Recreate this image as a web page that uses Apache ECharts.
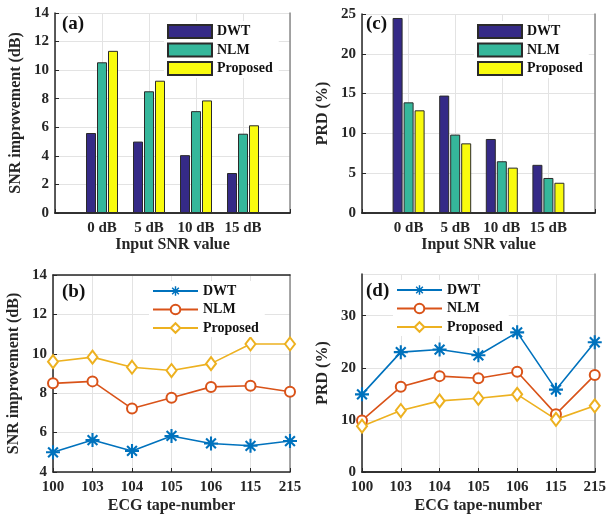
<!DOCTYPE html>
<html>
<head>
<meta charset="utf-8">
<script src="https://cdn.jsdelivr.net/npm/echarts@6/dist/echarts.min.js"></script>
<style>html,body{margin:0;padding:0;background:#fff}#c{width:609px;height:515px}</style>
</head>
<body>
<div id="c"></div>
<script>
// ---- data ----
const inputSnrCats = ['0 dB', '5 dB', '10 dB', '15 dB'];
const snrImpDWT = [5.6, 5.0, 4.05, 2.8];
const snrImpNLM = [10.55, 8.52, 7.13, 5.55];
const snrImpProposed = [11.35, 9.26, 7.88, 6.14];
const prdDWT = [24.5, 14.75, 9.3, 6.05];
const prdNLM = [13.9, 9.85, 6.5, 4.4];
const prdProposed = [12.9, 8.75, 5.7, 3.8];

const tapeNumbers = ['100', '103', '104', '105', '106', '115', '215'];
const tapeSnrDWT = [5.0, 5.62, 5.07, 5.83, 5.45, 5.33, 5.57];
const tapeSnrNLM = [8.5, 8.6, 7.22, 7.77, 8.32, 8.38, 8.07];
const tapeSnrProposed = [9.6, 9.83, 9.32, 9.15, 9.5, 10.5, 10.5];
const tapePrdDWT = [14.9, 23.0, 23.5, 22.4, 26.8, 15.8, 24.9];
const tapePrdNLM = [9.9, 16.35, 18.4, 18.0, 19.25, 11.1, 18.6];
const tapePrdProposed = [8.8, 11.8, 13.65, 14.15, 14.9, 10.1, 12.7];

const seriesNames = ['DWT', 'NLM', 'Proposed'];
const panelLabels = ['(a)', '(b)', '(c)', '(d)'];

// ---- styling ----
const FONT = '"Liberation Serif", "DejaVu Serif", serif';
const barColors = ['#352a87', '#35b79b', '#f9fb0e'];
const lineColors = ['#0072bd', '#d95319', '#edb120'];
const starPath = 'path://M8.5 0H11.5V20H8.5Z M0 8.5H20V11.5H0Z M4.06 1.94L18.06 15.94L15.94 18.06L1.94 4.06Z M15.94 1.94L18.06 4.06L4.06 18.06L1.94 15.94Z';

const pad = (arr) => [null].concat(arr, [null]);
const barCatsPadded = [''].concat(inputSnrCats, ['']);
// line-panel series get a trailing space so their legends use line icons
const lineName = (n) => n + ' ';

const grids = [
  {left: 55, top: 13, width: 235, height: 200},   // a
  {left: 362, top: 14, width: 233, height: 199},  // c
  {left: 53, top: 275, width: 237, height: 200},  // b
  {left: 362, top: 274, width: 235, height: 202}  // d
];

function xAxisBottom(gi, data, name, nameGap) {
  return {
    type: 'category', gridIndex: gi, data: data, boundaryGap: false,
    name: name, nameLocation: 'middle', nameGap: nameGap,
    nameTextStyle: {fontFamily: FONT, fontWeight: 'bold', fontSize: 16, color: '#262626'},
    axisLine: {lineStyle: {color: '#262626', width: 1.5}},
    axisTick: {inside: true, length: 4, lineStyle: {color: '#262626'}},
    axisLabel: {fontFamily: FONT, fontWeight: 'bold', fontSize: 15, color: '#262626', margin: 8,
      interval: 0},
    splitLine: {show: true, lineStyle: {color: '#e3e3e3', width: 1}}
  };
}
function xAxisTop(gi, data) {
  return {
    type: 'category', gridIndex: gi, data: data, boundaryGap: false, position: 'top',
    axisLine: {lineStyle: {color: '#262626', width: 1.5}},
    axisTick: {show: false}, axisLabel: {show: false}, splitLine: {show: false}
  };
}
function yAxisLeft(gi, min, max, interval, name) {
  return {
    type: 'value', gridIndex: gi, min: min, max: max, interval: interval,
    name: name, nameLocation: 'middle', nameGap: 31, nameRotate: 90,
    nameTextStyle: {fontFamily: FONT, fontWeight: 'bold', fontSize: 16, color: '#262626'},
    axisLine: {show: true, lineStyle: {color: '#262626', width: 1.5}},
    axisTick: {show: true, inside: true, length: 4, lineStyle: {color: '#262626'}},
    axisLabel: {fontFamily: FONT, fontWeight: 'bold', fontSize: 15, color: '#262626', margin: 6,
      showMaxLabel: (max % interval === 0)},
    splitLine: {show: true, lineStyle: {color: '#e3e3e3', width: 1}}
  };
}
function yAxisRight(gi, min, max, interval) {
  return {
    type: 'value', gridIndex: gi, min: min, max: max, interval: interval, position: 'right',
    axisLine: {show: true, lineStyle: {color: '#8a8a8a', width: 1.5}},
    axisTick: {show: false}, axisLabel: {show: false}, splitLine: {show: false}
  };
}

const xAxes = [
  xAxisBottom(0, barCatsPadded, 'Input SNR value', 23),
  xAxisBottom(1, barCatsPadded, 'Input SNR value', 23),
  xAxisBottom(2, tapeNumbers, 'ECG tape-number', 26),
  xAxisBottom(3, tapeNumbers, 'ECG tape-number', 26),
  xAxisTop(0, barCatsPadded), xAxisTop(1, barCatsPadded),
  xAxisTop(2, tapeNumbers), xAxisTop(3, tapeNumbers)
];
const yAxes = [
  yAxisLeft(0, 0, 14, 2, 'SNR improvement (dB)'),
  yAxisLeft(1, 0, 25, 5, 'PRD (%)'),
  yAxisLeft(2, 4, 14, 2, 'SNR improvement (dB)'),
  yAxisLeft(3, 0, 38, 10, 'PRD (%)'),
  yAxisRight(0, 0, 14, 2), yAxisRight(1, 0, 25, 5),
  yAxisRight(2, 4, 14, 2), yAxisRight(3, 0, 38, 10)
];

function barSeries(ax, name, values, idx) {
  return {
    type: 'bar', name: name, xAxisIndex: ax, yAxisIndex: ax, data: pad(values),
    barWidth: 10, barGap: '10%',
    itemStyle: {color: barColors[idx], borderColor: '#2a2a2a', borderWidth: 1},
    animation: false
  };
}
const lineSymbols = [starPath, 'emptyCircle', 'emptyDiamond'];
const lineSymbolSizes = [14, 10, [10, 13]];
function lineSeries(ax, name, values, idx) {
  return {
    type: 'line', name: lineName(name), xAxisIndex: ax, yAxisIndex: ax, data: values,
    symbol: lineSymbols[idx], symbolSize: lineSymbolSizes[idx], showAllSymbol: true,
    lineStyle: {color: lineColors[idx], width: 1.6},
    itemStyle: {color: lineColors[idx], borderColor: lineColors[idx],
      borderWidth: idx === 0 ? 0 : 1.5},
    animation: false
  };
}

const series = [
  barSeries(0, seriesNames[0], snrImpDWT, 0),
  barSeries(0, seriesNames[1], snrImpNLM, 1),
  barSeries(0, seriesNames[2], snrImpProposed, 2),
  barSeries(1, seriesNames[0], prdDWT, 0),
  barSeries(1, seriesNames[1], prdNLM, 1),
  barSeries(1, seriesNames[2], prdProposed, 2),
  lineSeries(2, seriesNames[0], tapeSnrDWT, 0),
  lineSeries(2, seriesNames[1], tapeSnrNLM, 1),
  lineSeries(2, seriesNames[2], tapeSnrProposed, 2),
  lineSeries(3, seriesNames[0], tapePrdDWT, 0),
  lineSeries(3, seriesNames[1], tapePrdNLM, 1),
  lineSeries(3, seriesNames[2], tapePrdProposed, 2)
];

function legend(left, top, isLine) {
  return {
    left: left, top: top, orient: 'vertical', backgroundColor: '#fff',
    padding: [3, 6, 2, 3], itemGap: isLine ? 4.5 : 3.5, itemWidth: isLine ? 45 : 44,
    itemHeight: isLine ? 12 : 13,
    itemTextGap: 5, selectedMode: false,
    icon: isLine ? undefined : 'rect',
    data: seriesNames.map(n => (isLine ? lineName(n) : n)),
    formatter: (n) => n.trim(),
    textStyle: {fontFamily: FONT, fontWeight: 'bold', fontSize: 14, color: '#111', lineHeight: 13}
  };
}

const option = {
  backgroundColor: '#fff',
  animation: false,
  grid: grids,
  xAxis: xAxes,
  yAxis: yAxes,
  series: series,
  title: [
    {text: panelLabels[0], left: 62, top: 15},
    {text: panelLabels[2], left: 366, top: 15},
    {text: panelLabels[1], left: 62, top: 283},
    {text: panelLabels[3], left: 366, top: 282}
  ].map(t => Object.assign(t, {padding: 0, textStyle: {fontFamily: FONT, fontWeight: 'bold', fontSize: 19, color: '#111'}})),
  legend: [
    legend(164, 21, false),
    legend(474, 21, false),
    legend(149, 281, true),
    legend(393, 280, true)
  ]
};

const chart = echarts.init(document.getElementById('c'), null, {renderer: 'canvas'});
chart.setOption(option);
</script>
</body>
</html>
